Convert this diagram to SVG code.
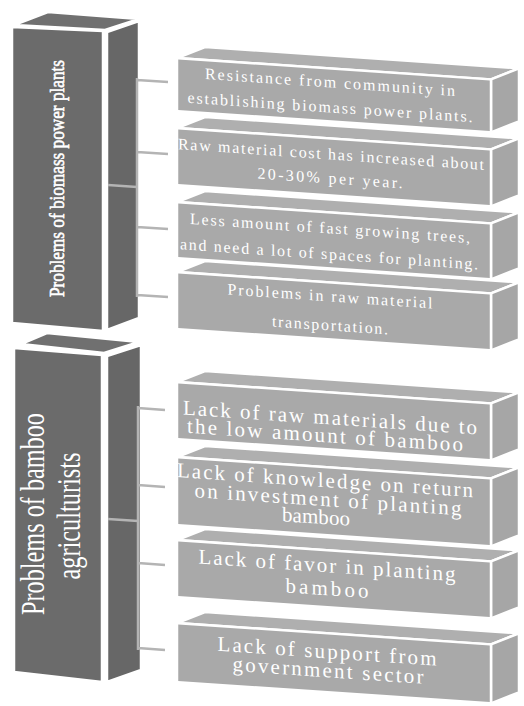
<svg xmlns="http://www.w3.org/2000/svg" width="524" height="706" viewBox="0 0 524 706">
<style>
.lf{fill:#6b6b6b;stroke:#fff;stroke-width:2.5;stroke-linejoin:round}
.lt{fill:#707070;stroke:#fff;stroke-width:2.5;stroke-linejoin:round}
.ls{fill:#676767;stroke:#fff;stroke-width:2.5;stroke-linejoin:round}
.rf{fill:#a9a9a9;stroke:#fff;stroke-width:2.5;stroke-linejoin:round}
.rt{fill:#afafaf;stroke:#fff;stroke-width:2.5;stroke-linejoin:round}
.rs{fill:#a6a6a6;stroke:#fff;stroke-width:2.5;stroke-linejoin:round}
.conn{stroke:#b4b4b4;stroke-width:2.5;fill:none;stroke-linecap:butt}
.bt{font-family:"Liberation Serif",serif;fill:#fff;text-anchor:middle}
.s{font-size:16px}
.m{font-size:21px}
</style>
<rect width="524" height="706" fill="#fff"/>

<g id="main-biomass">
<polygon class="lt" points="14,25 48,12 139,19 105,30"/>
<polygon class="ls" points="107,32 139,21 139,318 107,330"/>
<polygon class="lf" points="12,27 103,31 103,331 12,323"/>
<text class="bt" font-size="21" stroke="#fff" stroke-width="0.6" textLength="237" lengthAdjust="spacingAndGlyphs" transform="translate(64,178.5) rotate(-90)">Problems of biomass power plants</text>
</g>

<g id="main-bamboo">
<polygon class="lt" points="21,344 47,333 139,342 104,353"/>
<polygon class="ls" points="107,356 141,345 141,670 107,682"/>
<polygon class="lf" points="14,348 102,355 102,682 14,672"/>
<text class="bt" font-size="33" textLength="202" lengthAdjust="spacingAndGlyphs" transform="translate(44,514) rotate(-90)">Problems of bamboo</text>
<text class="bt" font-size="33" textLength="127" lengthAdjust="spacingAndGlyphs" transform="translate(80,516) rotate(-90)">agriculturists</text>
</g>

<g id="connectors">
<path class="conn" d="M108,185 L137,187 M137,78 L137,297 M137,80 L168,82 M137,152 L168,154 M137,227 L168,229 M137,295 L168,297"/>
<path class="conn" d="M108,519 L138,521 M138,406 L138,650 M138,408 L165,410 M138,485 L165,487 M138,563 L165,565 M138,648 L165,650"/>
</g>

<g transform="matrix(1 0.068 0 1 0 -11.97)">
<g id="a1">
<polygon class="rt" points="177,58 205,45 519,45 491,58"/>
<polygon class="rs" points="491,58 519,45 519,98 491,111"/>
<rect class="rf" x="177" y="58" width="314" height="53"/>
<text class="bt s" x="330" y="77" textLength="250">Resistance from community in</text>
<text class="bt s" x="330" y="102" textLength="285">establishing biomass power plants.</text>
</g>
<g id="a2">
<polygon class="rt" points="177,128 205,115 519,115 491,128"/>
<polygon class="rs" points="491,128 519,115 519,172 491,185"/>
<rect class="rf" x="177" y="128" width="314" height="57"/>
<text class="bt s" x="331" y="149" textLength="306">Raw material cost has increased about</text>
<text class="bt s" x="330" y="173" textLength="145">20-30% per year.</text>
</g>
<g id="a3">
<polygon class="rt" points="177,202 205,189 519,189 491,202"/>
<polygon class="rs" points="491,202 519,189 519,245 491,258"/>
<rect class="rf" x="177" y="202" width="314" height="56"/>
<text class="bt s" x="330" y="223" textLength="280">Less amount of fast growing trees,</text>
<text class="bt s" x="329" y="249" textLength="298">and need a lot of spaces for planting.</text>
</g>
<g id="a4">
<polygon class="rt" points="177,272 205,259 519,259 491,272"/>
<polygon class="rs" points="491,272 519,259 519,316 491,329"/>
<rect class="rf" x="177" y="272" width="314" height="57"/>
<text class="bt s" x="330" y="291" textLength="205">Problems in raw material</text>
<text class="bt s" x="330" y="320" textLength="116">transportation.</text>
</g>
<g id="b1">
<polygon class="rt" points="177,382 205,369 519,369 491,382"/>
<polygon class="rs" points="491,382 519,369 519,426 491,439"/>
<rect class="rf" x="177" y="382" width="314" height="57"/>
<text class="bt m" x="330" y="414" textLength="294">Lack of raw materials due to</text>
<text class="bt m" x="325" y="432" textLength="276">the low amount of bamboo</text>
</g>
<g id="b2">
<polygon class="rt" points="177,457 205,444 519,444 491,457"/>
<polygon class="rs" points="491,457 519,444 519,512 491,525"/>
<rect class="rf" x="177" y="457" width="314" height="68"/>
<text class="bt m" x="325" y="477" textLength="296">Lack of knowledge on return</text>
<text class="bt m" x="328" y="496" textLength="267">on investment of planting</text>
<text class="bt m" x="316" y="514" textLength="68">bamboo</text>
</g>
<g id="b3">
<polygon class="rt" points="177,540 205,527 519,527 491,540"/>
<polygon class="rs" points="491,540 519,527 519,584 491,597"/>
<rect class="rf" x="177" y="540" width="314" height="57"/>
<text class="bt m" x="327" y="562" textLength="257">Lack of favor in planting</text>
<text class="bt m" x="327" y="585" textLength="83">bamboo</text>
</g>
<g id="b4">
<polygon class="rt" points="177,623 205,610 519,610 491,623"/>
<polygon class="rs" points="491,623 519,610 519,669 491,682"/>
<rect class="rf" x="177" y="623" width="314" height="59"/>
<text class="bt m" x="327" y="648" textLength="219">Lack of support from</text>
<text class="bt m" x="328" y="667" textLength="191">government sector</text>
</g>
</g>
</svg>
